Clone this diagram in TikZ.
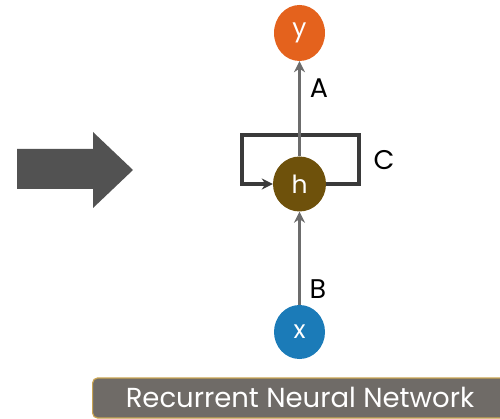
\documentclass[tikz,border=0pt]{standalone}
\usepackage{fontspec}
\setmainfont{Poppins}
\usetikzlibrary{arrows.meta,shapes.geometric}
\definecolor{yorange}{HTML}{E4621D}
\definecolor{hbrown}{HTML}{6E510B}
\definecolor{xblue}{HTML}{1B7BB8}
\definecolor{linegray}{HTML}{6C6C6C}
\definecolor{loopdark}{HTML}{3A3A3A}
\definecolor{bigarrow}{HTML}{525252}
\definecolor{bannerfill}{HTML}{6F6B67}
\definecolor{bannerrim}{HTML}{C9A452}
\begin{document}
\begin{tikzpicture}[x=1pt,y=-1pt,
  unit/.style={ellipse, minimum width=51pt, minimum height=56pt, inner sep=0pt,
    text=white, font=\fontsize{25}{25}\selectfont},
  flow/.style={draw=linegray, line width=3.2pt, -{Stealth[length=11pt,width=11pt]}},
  loopline/.style={draw=loopdark, line width=3.2pt},
  lbl/.style={font=\fontsize{27}{27}\selectfont, text=black, inner sep=0pt}]
\useasboundingbox (0,0) rectangle (500,419);

% the three units
\node[unit, fill=yorange] (y) at (299.5,33) {y};
\node[unit, fill=hbrown, minimum width=53pt, minimum height=55pt] (h) at (299.5,184) {h};
\node[unit, fill=xblue, minimum height=54pt] (x) at (299.5,332) {x};

% recurrent loop around h
\coordinate (cr) at (359,184);
\coordinate (tr) at (359,135);
\coordinate (tl) at (242,135);
\coordinate (cl) at (242,184);
\draw[loopline, line join=miter] (h.east) -- (cr) -- (tr) -- (tl) -- (cl) -- ([xshift=-4pt]h.west);
\draw[loopline, -{Stealth[length=11pt,width=11pt]}] ([xshift=10pt]cl) -- (h.west);

% forward connections
\draw[flow] (h.north) -- (y.south);
\draw[flow] (x.north) -- (h.south);

% weight labels
\node[lbl] (A) at (319,88) {A};
\node[lbl] (C) at (384,160) {C};
\node[lbl] (B) at (318,289) {B};

% big block arrow on the left
\fill[bigarrow] (17,149) -- (93,149) -- (93,132) -- (133,170) -- (93,208)
  -- (93,189) -- (17,189) -- cycle;

% caption banner
\node[draw=bannerrim, line width=1.2pt, fill=bannerfill, rounded corners=5pt,
  minimum width=420pt, minimum height=40pt, anchor=west, inner sep=0pt]
  (banner) at (92,398) {};
\node[text=white, font=\fontsize{27.5}{27.5}\selectfont, anchor=center]
  (caption) at (300,397) {Recurrent Neural Network};
\end{tikzpicture}
\end{document}
